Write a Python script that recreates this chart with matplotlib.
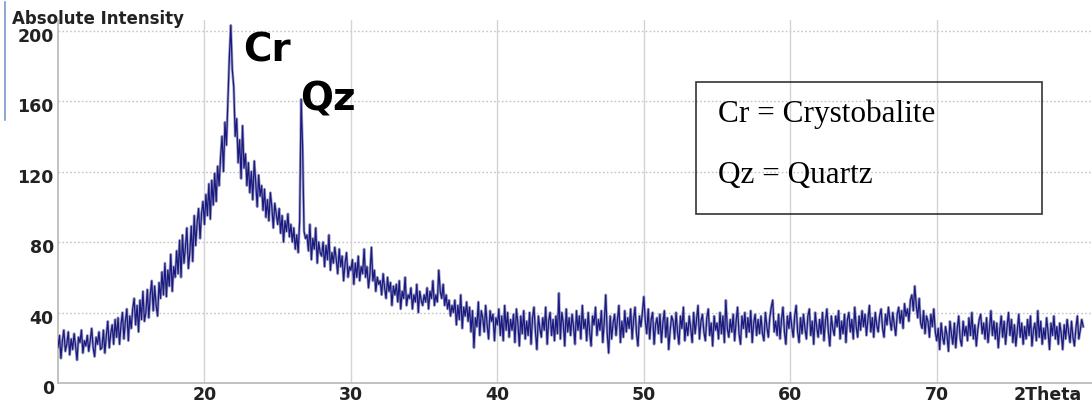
import numpy as np
import matplotlib.pyplot as plt
from matplotlib.patches import Rectangle
from matplotlib.lines import Line2D
from matplotlib.transforms import ScaledTranslation

# 2theta from 10 to 80 deg, step 0.1 (values read row by row, one row per degree)
two_theta_start = 10.0
two_theta_step = 0.1
intensity_rows = [
    [20, 27, 14, 24, 30, 18, 22, 29, 16, 25],        # 10
    [19, 28, 21, 13, 26, 23, 30, 17, 24, 21],        # 11
    [27, 18, 24, 31, 20, 15, 26, 22, 29, 19],        # 12
    [20, 30, 17, 27, 35, 20, 28, 33, 22, 36],        # 13
    [26, 37, 22, 33, 40, 25, 35, 42, 24, 38],        # 14
    [31, 42, 48, 33, 44, 29, 47, 36, 52, 35],        # 15
    [40, 53, 37, 50, 58, 41, 55, 44, 38, 57],        # 16
    [48, 63, 50, 68, 49, 64, 55, 73, 52, 66],        # 17
    [60, 75, 62, 81, 60, 84, 68, 77, 88, 65],        # 18
    [74, 89, 69, 95, 78, 91, 99, 82, 96, 103],       # 19
    [90, 107, 95, 113, 93, 115, 101, 119, 103, 123], # 20
    [112, 128, 140, 120, 148, 135, 160, 185, 203, 178],  # 21 (Cr)
    [168, 140, 150, 125, 138, 116, 146, 122, 130, 112],  # 22
    [125, 108, 120, 104, 126, 114, 100, 118, 106, 112],  # 23
    [98, 110, 94, 104, 92, 108, 100, 88, 102, 96],   # 24
    [90, 99, 85, 95, 80, 92, 86, 96, 83, 90],        # 25
    [80, 88, 76, 84, 74, 92, 161, 134, 86, 82],      # 26 (Qz)
    [84, 75, 90, 70, 82, 76, 88, 68, 80, 74],        # 27
    [72, 80, 66, 78, 70, 84, 64, 74, 68, 77],        # 28
    [70, 62, 76, 66, 72, 58, 68, 74, 60, 66],        # 29
    [64, 70, 56, 68, 60, 72, 58, 66, 62, 76],        # 30
    [60, 66, 54, 62, 77, 58, 64, 52, 60, 56],        # 31
    [58, 50, 62, 54, 48, 60, 52, 57, 44, 55],        # 32
    [50, 56, 46, 58, 42, 52, 48, 60, 44, 50],        # 33
    [48, 54, 42, 50, 46, 56, 40, 52, 47, 44],        # 34
    [50, 46, 54, 42, 52, 48, 58, 44, 50, 46],        # 35
    [64, 52, 48, 56, 44, 50, 42, 47, 38, 44],        # 36
    [40, 47, 33, 44, 36, 50, 31, 43, 38, 46],        # 37
    [35, 43, 29, 41, 20, 37, 32, 46, 27, 41],        # 38
    [37, 29, 44, 33, 25, 41, 35, 39, 24, 37],        # 39
    [33, 42, 27, 38, 24, 44, 30, 40, 26, 36],        # 40
    [30, 39, 23, 42, 34, 21, 38, 28, 41, 25],        # 41
    [35, 27, 40, 22, 37, 43, 29, 19, 38, 31],        # 42
    [26, 37, 30, 43, 22, 35, 40, 27, 36, 24],        # 43
    [38, 28, 51, 25, 40, 34, 21, 42, 29, 37],        # 44
    [27, 39, 32, 22, 41, 30, 38, 25, 44, 31],        # 45
    [36, 24, 40, 29, 21, 38, 33, 43, 27, 36],        # 46
    [30, 41, 23, 35, 50, 28, 17, 38, 25, 34],        # 47
    [39, 27, 36, 44, 23, 35, 26, 41, 29, 37],        # 48
    [31, 42, 25, 36, 43, 28, 21, 38, 32, 40],        # 49
    [49, 35, 28, 42, 25, 36, 40, 22, 33, 37],        # 50
    [28, 39, 23, 34, 41, 26, 37, 19, 30, 38],        # 51
    [35, 25, 40, 29, 22, 38, 31, 43, 24, 34],        # 52
    [27, 38, 31, 23, 40, 28, 36, 44, 25, 35],        # 53
    [39, 29, 24, 37, 42, 27, 34, 21, 38, 30],        # 54
    [34, 25, 40, 28, 38, 23, 47, 31, 26, 36],        # 55
    [29, 39, 24, 35, 43, 28, 22, 38, 31, 40],        # 56
    [26, 37, 29, 41, 23, 34, 39, 27, 36, 28],        # 57
    [38, 28, 24, 40, 32, 26, 37, 43, 47, 29],        # 58
    [35, 27, 39, 25, 36, 43, 29, 22, 38, 31],        # 59
    [40, 32, 26, 38, 44, 29, 23, 37, 28, 39],        # 60
    [31, 25, 38, 42, 27, 35, 22, 40, 32, 26],        # 61
    [36, 28, 40, 24, 35, 42, 29, 21, 38, 31],        # 62
    [27, 38, 32, 41, 25, 35, 28, 39, 23, 36],        # 63
    [40, 29, 36, 25, 43, 32, 26, 38, 30, 41],        # 64
    [32, 39, 27, 36, 44, 29, 37, 26, 40, 33],        # 65
    [29, 38, 42, 31, 26, 39, 33, 43, 36, 30],        # 66
    [40, 33, 27, 39, 43, 34, 41, 31, 45, 38],        # 67
    [42, 35, 47, 50, 41, 55, 44, 37, 48, 34],        # 68
    [31, 41, 28, 38, 35, 26, 39, 32, 42, 29],        # 69
    [24, 31, 19, 34, 26, 22, 32, 27, 18, 35],        # 70
    [28, 22, 34, 20, 31, 38, 25, 21, 35, 27],        # 71
    [32, 24, 37, 27, 40, 25, 33, 21, 30, 36],        # 72
    [39, 28, 34, 25, 37, 23, 31, 41, 27, 35],        # 73
    [25, 34, 20, 30, 38, 26, 35, 22, 32, 40],        # 74
    [27, 36, 23, 33, 21, 30, 39, 26, 34, 22],        # 75
    [32, 25, 36, 27, 38, 21, 30, 34, 24, 41],        # 76
    [26, 35, 22, 31, 25, 37, 29, 19, 34, 27],        # 77
    [38, 25, 32, 22, 34, 28, 19, 33, 25, 36],        # 78
    [29, 23, 35, 26, 21, 31, 38, 25, 30, 36],        # 79
    [32],                                            # 80
]

y_ticks = [0, 40, 80, 120, 160, 200]
x_ticks = [20, 30, 40, 50, 60, 70]
x_tick_labels = ['20', '30', '40', '50', '60', '70']
peak_labels = ['Cr', 'Qz']
legend_lines = ['Cr = Crystobalite', 'Qz = Quartz']

intensity = np.array([v for row in intensity_rows for v in row], dtype=float)
two_theta = two_theta_start + two_theta_step * np.arange(len(intensity))

W, H = 1092, 404
fig = plt.figure(figsize=(W / 100, H / 100), dpi=100)
ax = fig.add_axes([58 / W, 21 / H, 1034 / W, 363 / H])

ax.plot(two_theta, intensity, color='#a2a2c8', lw=2.0, zorder=2)
ax.plot(two_theta, intensity, color='#1a1a7e', lw=0.9, zorder=3)

ax.set_xlim(10, 80.6)
ax.set_ylim(0, 206)

for yv in y_ticks[1:]:
    ax.axhline(yv, color='#c4c4c4', lw=1.0, ls=(0, (1.2, 1.6)), zorder=1)
for xv in x_ticks:
    ax.axvline(xv, color='#d4d4d4', lw=1.0, zorder=1)

for s in ['top', 'right']:
    ax.spines[s].set_visible(False)
for s in ['left', 'bottom']:
    ax.spines[s].set_color('#b8b8b8')
    ax.spines[s].set_linewidth(1.2)

ax.set_yticks(y_ticks)
ax.set_yticklabels([str(v) for v in y_ticks], fontweight='bold', fontsize=12.5,
                   color='#222222')
ax.set_xticks(x_ticks + [77.6])
ax.set_xticklabels(x_tick_labels + ['2Theta'], fontweight='bold', fontsize=12.5,
                   color='#222222')
ax.tick_params(length=0, pad=2)
ax.tick_params(axis='y', pad=3)
shift = ScaledTranslation(0, -0.04, fig.dpi_scale_trans)
for lab in ax.get_yticklabels():
    lab.set_transform(lab.get_transform() + shift)

fig.text(12 / W, 1 - 19 / H, 'Absolute Intensity', fontweight='bold',
         fontsize=12, color='#222222', va='center', ha='left')

narrow = ['Liberation Sans Narrow', 'DejaVu Sans']
fig.text(243 / W, 1 - 62 / H, peak_labels[0], family=narrow, fontweight='bold',
         fontsize=28, color='black', va='baseline', ha='left')
fig.text(300 / W, 1 - 110 / H, peak_labels[1], family=narrow, fontweight='bold',
         fontsize=28, color='black', va='baseline', ha='left')

fig.add_artist(Rectangle((696 / W, 1 - 214 / H), 346 / W, 132 / H,
                         transform=fig.transFigure, fill=False,
                         edgecolor='#333333', lw=1.2))
fig.text(718 / W, 1 - 122 / H, legend_lines[0], family='Liberation Serif',
         fontsize=22.5, color='black', va='baseline', ha='left')
fig.text(718 / W, 1 - 183 / H, legend_lines[1], family='Liberation Serif',
         fontsize=22.5, color='black', va='baseline', ha='left')

fig.add_artist(Line2D([5 / W, 5 / W], [1 - 2 / H, 1 - 120 / H],
                      transform=fig.transFigure, color='#7d9acb', lw=1.2))

fig.savefig('out.png', dpi=100)
